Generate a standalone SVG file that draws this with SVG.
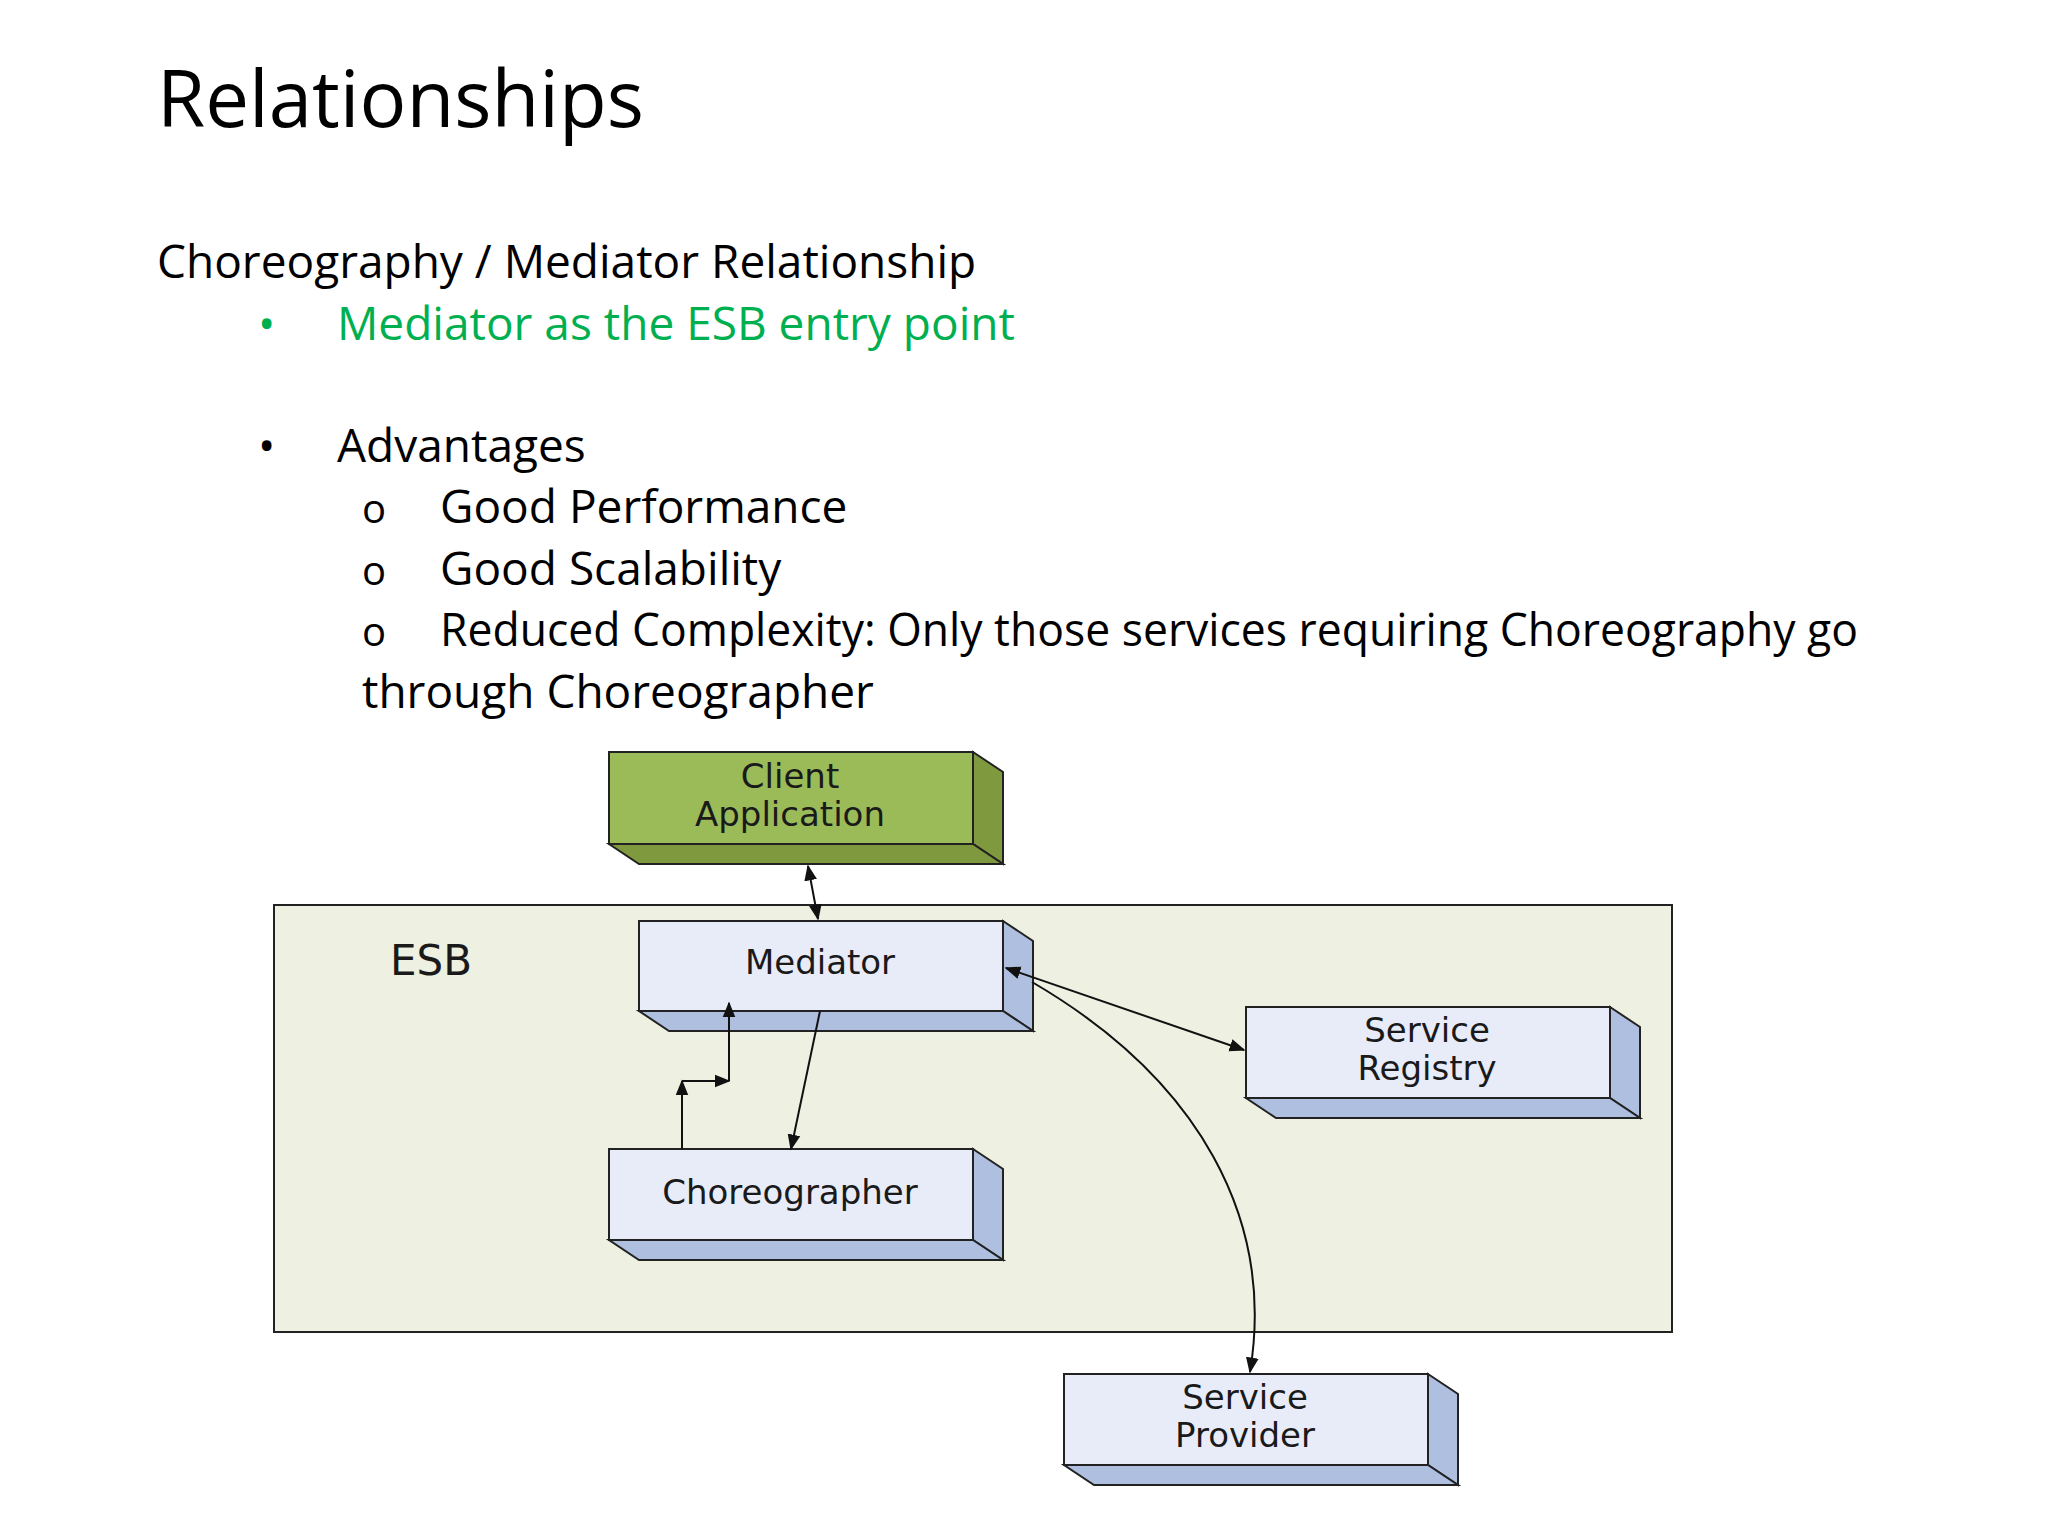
<svg xmlns="http://www.w3.org/2000/svg" width="2048" height="1536" viewBox="0 0 2048 1536">
<defs>
<style>
.t{font-family:"Open Sans","Liberation Sans",sans-serif;fill:#000}
.b{font-family:"DejaVu Sans","Liberation Sans",sans-serif;font-size:34px;text-anchor:middle;fill:#1a1a1a}
.front{fill:#e8ecf8;stroke:#222;stroke-width:2}
.side{fill:#aebfe0;stroke:#222;stroke-width:2}
.c{stroke:#111;stroke-width:2;fill:none}
</style>
<marker id="a" viewBox="0 0 10 10" refX="9" refY="5" markerWidth="8" markerHeight="8" orient="auto-start-reverse"><path d="M0,1 L10,5 L0,9 z" fill="#111"/></marker>
</defs>
<rect width="2048" height="1536" fill="#fff"/>
<text class="t" x="157" y="127" font-size="78">Relationships</text>
<text class="t" x="157" y="278" font-size="46">Choreography / Mediator Relationship</text>
<text class="t" x="258" y="340" font-size="46" fill="#00b050" style="fill:#00b050">•</text>
<text class="t" x="337" y="340" font-size="46" style="fill:#00b050">Mediator as the ESB entry point</text>
<text class="t" x="258" y="462" font-size="46">•</text>
<text class="t" x="337" y="462" font-size="46">Advantages</text>
<text class="t" x="362" y="523" font-size="40">o</text>
<text class="t" x="440" y="523" font-size="46">Good Performance</text>
<text class="t" x="362" y="585" font-size="40">o</text>
<text class="t" x="440" y="585" font-size="46">Good Scalability</text>
<text class="t" x="362" y="646" font-size="40">o</text>
<text class="t" x="440" y="646" font-size="46" textLength="1418" lengthAdjust="spacingAndGlyphs">Reduced Complexity: Only those services requiring Choreography go</text>
<text class="t" x="362" y="708" font-size="46">through Choreographer</text>

<g id="esb"><rect x="274" y="905" width="1398" height="427" fill="#eef0e1" stroke="#222" stroke-width="2"/>
<text x="390" y="975" font-family="DejaVu Sans,sans-serif" font-size="42" fill="#1a1a1a">ESB</text></g>

<g id="client">
<polygon points="973,752 1003,772 1003,864 973,844" fill="#7f9a3e" stroke="#222" stroke-width="2"/>
<polygon points="609,844 973,844 1003,864 639,864" fill="#7f9a3e" stroke="#222" stroke-width="2"/>
<rect x="609" y="752" width="364" height="92" fill="#9bbb59" stroke="#222" stroke-width="2"/>
<text class="b" x="790" y="788">Client</text><text class="b" x="790" y="826">Application</text></g>

<g id="mediator">
<polygon class="side" points="1003,921 1033,941 1033,1031 1003,1011"/>
<polygon class="side" points="639,1011 1003,1011 1033,1031 669,1031"/>
<rect class="front" x="639" y="921" width="364" height="90"/>
<text class="b" x="820" y="974">Mediator</text></g>

<g id="registry">
<polygon class="side" points="1610,1007 1640,1027 1640,1118 1610,1098"/>
<polygon class="side" points="1246,1098 1610,1098 1640,1118 1276,1118"/>
<rect class="front" x="1246" y="1007" width="364" height="91"/>
<text class="b" x="1427" y="1042">Service</text><text class="b" x="1427" y="1080">Registry</text></g>

<g id="choreographer">
<polygon class="side" points="973,1149 1003,1169 1003,1260 973,1240"/>
<polygon class="side" points="609,1240 973,1240 1003,1260 639,1260"/>
<rect class="front" x="609" y="1149" width="364" height="91"/>
<text class="b" x="790" y="1204">Choreographer</text></g>

<g id="provider">
<polygon class="side" points="1428,1374 1458,1394 1458,1485 1428,1465"/>
<polygon class="side" points="1064,1465 1428,1465 1458,1485 1094,1485"/>
<rect class="front" x="1064" y="1374" width="364" height="91"/>
<text class="b" x="1245" y="1409">Service</text><text class="b" x="1245" y="1447">Provider</text></g>

<g id="connectors">
<line class="c" x1="808" y1="866" x2="818" y2="919" marker-start="url(#a)" marker-end="url(#a)"/>
<line class="c" x1="820" y1="1011" x2="791" y2="1149" marker-end="url(#a)"/>
<path class="c" d="M682,1149 L682,1081" marker-end="url(#a)"/>
<path class="c" d="M682,1081 L729,1081" marker-end="url(#a)"/>
<path class="c" d="M729,1081 L729,1003" marker-end="url(#a)"/>
<line class="c" x1="1006" y1="968" x2="1244" y2="1050" marker-start="url(#a)" marker-end="url(#a)"/>
<path class="c" d="M1032,982 C1200,1080 1275,1220 1250,1372" marker-end="url(#a)"/>
</g>
</svg>
